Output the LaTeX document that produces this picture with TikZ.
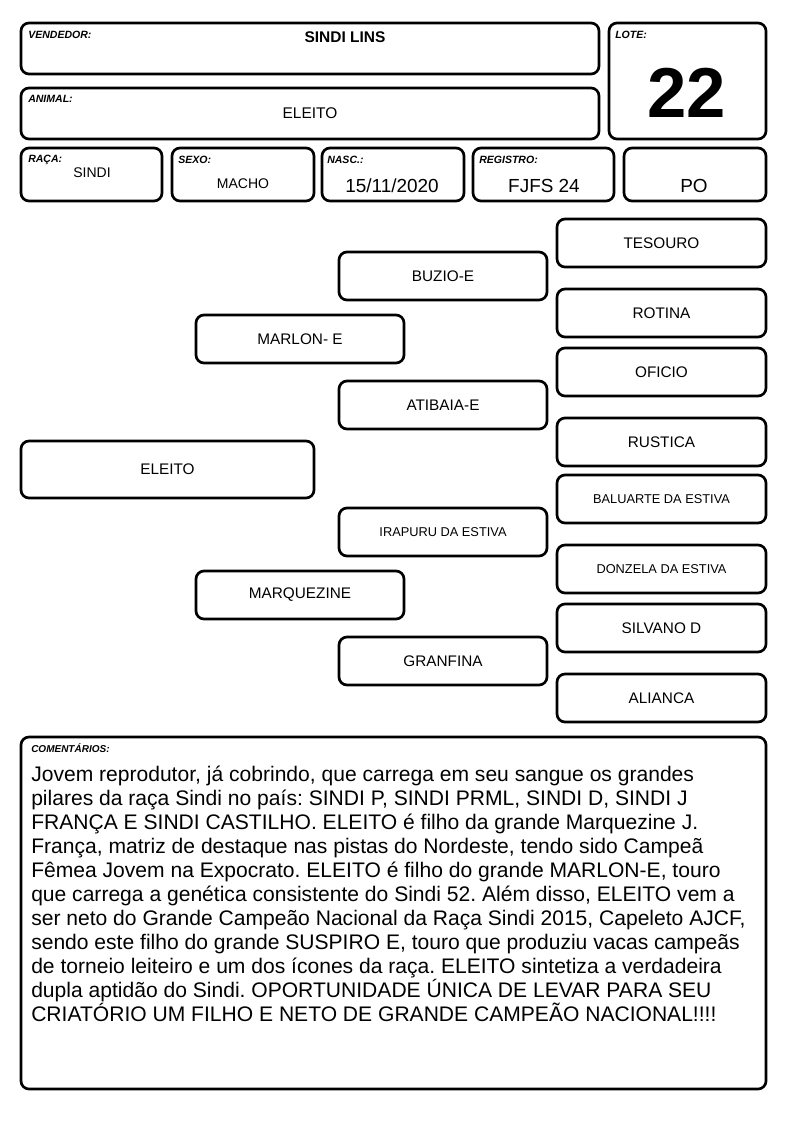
\documentclass[tikz,border=0pt]{standalone}
\usepackage{fontspec}
\setmainfont{Liberation Sans}
\usetikzlibrary{fit}
\frenchspacing
\tikzset{
  box/.style={draw, line width=2pt, rounded corners=6pt, inner sep=0pt, align=center, font=\fontsize{11.5}{13}\selectfont},
  lbl/.style={anchor=base west, inner sep=0pt, font=\fontsize{7.9}{9}\bfseries\itshape\selectfont},
  val/.style={anchor=base, inner sep=0pt}
}
\newcommand\bx[5]{\node[box, fit={(#2,#3) (#4,#5)}] (#1) {};}
\newcommand\ped[7][\fontsize{11.5}{13}\selectfont]{\node[box, fit={(#3,#4) (#5,#6)}] (#2) {}; \node[font=#1, inner sep=0pt] (#2t) at (#2.center) {#7};}
\begin{document}
\begin{tikzpicture}[x=0.75pt,y=-0.75pt]
\useasboundingbox (0,0) rectangle (794,1123);
% header boxes
\bx{vend}{21}{23}{599}{74}
\bx{anim}{21}{88}{599}{139}
\bx{lote}{609}{23}{766}{139}
\bx{raca}{21}{148}{162}{201}
\bx{sexo}{172}{148}{314}{201}
\bx{nasc}{322}{148}{464}{201}
\bx{regi}{473}{148}{614}{201}
\bx{po}{624}{148}{766}{201}
\node[lbl] (vendl) at (28,39) {VENDEDOR:};
\node[val, font=\fontsize{11.6}{13}\bfseries\selectfont] (vendv) at (345,43) {SINDI LINS};
\node[lbl] (animl) at (28,103) {ANIMAL:};
\node[val, font=\fontsize{11.6}{13}\selectfont] (animv) at (310,119) {ELEITO};
\node[lbl] (lotel) at (615,39) {LOTE:};
\node[val, font=\fontsize{53}{56}\bfseries\selectfont] (lotev) at (687,118) {22};
\node[lbl] (racal) at (28,163) {RAÇA:};
\node[val, font=\fontsize{10.5}{12}\selectfont] (racav) at (92,178) {SINDI};
\node[lbl] (sexol) at (178,164) {SEXO:};
\node[val, font=\fontsize{10.5}{12}\selectfont] (sexov) at (243,189) {MACHO};
\node[lbl] (nascl) at (327,164) {NASC.:};
\node[val, font=\fontsize{14.2}{16}\selectfont] (nascv) at (392,193) {15/11/2020};
\node[lbl] (regil) at (479,164) {REGISTRO:};
\node[val, font=\fontsize{14.2}{16}\selectfont] (regiv) at (544,193) {FJFS 24};
\node[val, font=\fontsize{14.2}{16}\selectfont] (pov) at (694,193) {PO};
% pedigree
\ped{eleito}{21}{441}{314}{498}{ELEITO}
\ped{marlon}{196}{315}{404}{363}{MARLON- E}
\ped{marquezine}{196}{571}{404}{619}{MARQUEZINE}
\ped{buzio}{339}{252}{547}{300}{BUZIO-E}
\ped{atibaia}{339}{381}{547}{429}{ATIBAIA-E}
\ped[\fontsize{9.6}{11}\selectfont]{irapuru}{339}{508}{547}{556}{IRAPURU DA ESTIVA}
\ped{granfina}{339}{637}{547}{685}{GRANFINA}
\ped{tesouro}{557}{219}{766}{267}{TESOURO}
\ped{rotina}{557}{289}{766}{337}{ROTINA}
\ped{oficio}{557}{348}{766}{396}{OFICIO}
\ped{rustica}{557}{418}{766}{466}{RUSTICA}
\ped[\fontsize{9.6}{11}\selectfont]{baluarte}{557}{475}{766}{523}{BALUARTE DA ESTIVA}
\ped[\fontsize{9.6}{11}\selectfont]{donzela}{557}{545}{766}{593}{DONZELA DA ESTIVA}
\ped{silvano}{557}{604}{766}{652}{SILVANO D}
\ped{alianca}{557}{674}{766}{722}{ALIANCA}
% comments
\bx{coment}{21}{737}{766}{1089}
\node[lbl, font=\fontsize{7.5}{9}\bfseries\itshape\selectfont] (comentl) at (31,752) {COMENTÁRIOS:};
\node[anchor=north west, inner sep=0pt, align=left, font=\fontsize{15.8}{18}\selectfont] (comentv) at (31,764) {\strut Jovem reprodutor, já cobrindo, que carrega em seu sangue os grandes\\
pilares da raça Sindi no país: SINDI P, SINDI PRML, SINDI D, SINDI J\\
FRANÇA E SINDI CASTILHO. ELEITO é filho da grande Marquezine J.\\
França, matriz de destaque nas pistas do Nordeste, tendo sido Campeã\\
Fêmea Jovem na Expocrato. ELEITO é filho do grande MARLON-E, touro\\
que carrega a genética consistente do Sindi 52. Além disso, ELEITO vem a\\
ser neto do Grande Campeão Nacional da Raça Sindi 2015, Capeleto AJCF,\\
sendo este filho do grande SUSPIRO E, touro que produziu vacas campeãs\\
de torneio leiteiro e um dos ícones da raça. ELEITO sintetiza a verdadeira\\
dupla aptidão do Sindi. OPORTUNIDADE ÚNICA DE LEVAR PARA SEU\\
CRIATÓRIO UM FILHO E NETO DE GRANDE CAMPEÃO NACIONAL!!!!};
\end{tikzpicture}
\end{document}
